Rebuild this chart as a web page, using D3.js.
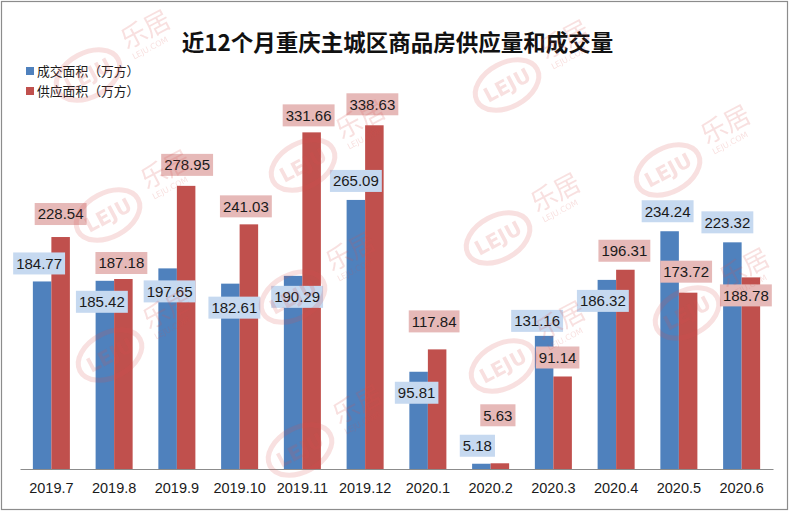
<!DOCTYPE html>
<html>
<head>
<meta charset="utf-8">
<script src="https://cdn.jsdelivr.net/npm/d3@7/dist/d3.min.js"></script>
<style>
  html, body { margin: 0; padding: 0; background: #fff; }
  svg { display: block; }
</style>
</head>
<body>
<svg id="chart" width="790" height="511"></svg>
<script>
// ---------------- data ----------------
const months = ["2019.7","2019.8","2019.9","2019.10","2019.11","2019.12","2020.1","2020.2","2020.3","2020.4","2020.5","2020.6"];
const dealArea   = [184.77,185.42,197.65,182.61,190.29,265.09,95.81,5.18,131.16,186.32,234.24,223.32];
const supplyArea = [228.54,187.18,278.95,241.03,331.66,338.63,117.84,5.63,91.14,196.31,173.72,188.78];
const seriesNames = ["成交面积（万方）","供应面积（万方）"];
const titleText = "近12个月重庆主城区商品房供应量和成交量";

// hand-placed label nudges (px, box centre relative to bar top)
const dealLabelDy   = [-18, 21, 23, 24, 21, -19, 21, -18, -15, 21, -20, -20];
const supplyLabelDy = [-23, -16, -21, -18, -17, -21, -28, -48, -19, -19, -21, 18];
const dealLabelDx   = [-3, -3, 2, 4, 4, 0, -2, -4, -7, -4, -2, -5];
const supplyLabelDx = [0, -2, 1, -3, -3, -2, -3, -2, -5, -1, -2, -5];

// watermark anchor points (decoration)
const watermarks = [[88,75],[507,85],[108,215],[303,165],[668,170],[498,238],[110,355],[293,297],[503,366],[687,313],[300,450]];

// ---------------- chart ----------------
const svg = d3.select("#chart");
const colors = ["#4f81bd", "#c0504d"];
const boxFills = ["#c6d9f0", "#e6b9b8"];

svg.append("rect").attr("x", 1.5).attr("y", 1.5).attr("width", 786).attr("height", 508)
  .attr("fill", "#fff").attr("stroke", "#8c8c8c").attr("stroke-width", 1.2);

const x = d3.scaleBand().domain(months).range([20, 773]).paddingInner(0.41).paddingOuter(0.205);
const xs = d3.scaleBand().domain([0, 1]).range([0, x.bandwidth()]);
const y = d3.scaleLinear().domain([0, 400]).range([469, 63]);

// bars
const rows = months.map((m, i) => ({ m, vals: [dealArea[i], supplyArea[i]], i }));
const g = svg.append("g");
rows.forEach(r => {
  r.vals.forEach((v, s) => {
    g.append("rect")
      .attr("x", x(r.m) + xs(s))
      .attr("y", y(v))
      .attr("width", xs.bandwidth())
      .attr("height", y(0) - y(v))
      .attr("fill", colors[s]);
  });
});

// x axis
const axis = svg.append("g").attr("transform", `translate(0,${y(0)})`)
  .call(d3.axisBottom(x).tickSize(0).tickPadding(14));
axis.select(".domain").attr("stroke", "#8c8c8c").attr("stroke-width", 1.2);
axis.selectAll("text").attr("font-family", "Liberation Sans, Arial, sans-serif")
  .attr("font-size", "14.5px").attr("fill", "#1a1a1a");

// labels
const lab = svg.append("g").attr("font-family", "Liberation Sans, Arial, sans-serif").attr("font-size", "15px");
rows.forEach(r => {
  r.vals.forEach((v, s) => {
    const dy = s === 0 ? dealLabelDy[r.i] : supplyLabelDy[r.i];
    const dx = s === 0 ? dealLabelDx[r.i] : supplyLabelDx[r.i];
    const cx = x(r.m) + xs(s) + xs.bandwidth() / 2 + dx;
    const cy = y(v) + dy;
    const txt = v.toFixed(2);
    const t = lab.append("text").attr("x", cx).attr("y", cy).attr("dy", "0.36em")
      .attr("text-anchor", "middle").attr("fill", "#1a1a1a").text(txt);
    const bw = t.node().getComputedTextLength() + 6;
    lab.insert("rect", () => t.node())
      .attr("x", cx - bw / 2).attr("y", cy - 11).attr("width", bw).attr("height", 22)
      .attr("fill", boxFills[s]);
  });
});

// title
svg.append("text").attr("x", 397.5).attr("y", 43).attr("dy", "0.36em")
  .attr("text-anchor", "middle")
  .attr("font-family", "Noto Sans CJK SC, sans-serif").attr("font-weight", "bold")
  .attr("font-size", "22.5px").attr("fill", "#111").text(titleText);

// legend
const leg = svg.append("g");
seriesNames.forEach((n, s) => {
  const ly = 71 + s * 20;
  leg.append("rect").attr("x", 26).attr("y", ly - 4).attr("width", 8).attr("height", 8).attr("fill", colors[s]);
  leg.append("text").attr("x", 37).attr("y", ly).attr("dy", "0.36em")
    .attr("font-family", "Noto Sans CJK SC, sans-serif").attr("font-size", "12.8px")
    .attr("fill", "#1a1a1a").text(n);
});

// watermarks
const wm = svg.append("g").attr("opacity", 0.18).attr("pointer-events", "none");
watermarks.forEach(([wx, wy]) => {
  const gg = wm.append("g").attr("transform", `translate(${wx},${wy}) rotate(-28)`);
  gg.append("ellipse").attr("rx", 34).attr("ry", 22).attr("fill", "none")
    .attr("stroke", "#d9534f").attr("stroke-width", 5);
  gg.append("text").attr("text-anchor", "middle").attr("dy", "0.36em")
    .attr("font-family", "DejaVu Sans, sans-serif").attr("font-weight", "bold")
    .attr("font-size", "20px").attr("fill", "#d9534f").text("LEJU");
  gg.append("text").attr("x", 46).attr("y", -4)
    .attr("font-family", "Noto Sans CJK SC, sans-serif")
    .attr("font-size", "26px").attr("fill", "#d9534f").text("乐居");
  gg.append("text").attr("x", 48).attr("y", 8)
    .attr("font-family", "DejaVu Sans, sans-serif")
    .attr("font-size", "8px").attr("fill", "#d9534f").text("LEJU.COM");
});
</script>
</body>
</html>
